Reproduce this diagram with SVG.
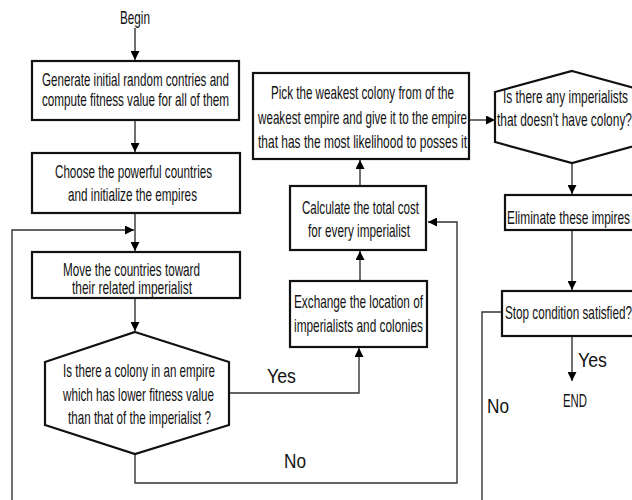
<svg xmlns="http://www.w3.org/2000/svg" width="632" height="500" viewBox="0 0 632 500">
<style>
.box{fill:#fff;stroke:#111;stroke-width:2.2}
.ln{fill:none;stroke:#333;stroke-width:1.4}
text{font-family:"Liberation Sans",Arial,sans-serif;font-size:19px;fill:#111}
.lbl{font-size:20px}
</style>
<defs>
<marker id="ah" viewBox="0 0 10 10" refX="10" refY="5" markerWidth="9" markerHeight="9" markerUnits="userSpaceOnUse" orient="auto">
<path d="M0,0 L10,5 L0,10 Z" fill="#000"/>
</marker>
</defs>
<rect width="632" height="500" fill="#fff"/>
<g id="connectors">
<path class="ln" d="M135,28 V60" marker-end="url(#ah)"/>
<path class="ln" d="M135,120 V152" marker-end="url(#ah)"/>
<path class="ln" d="M135,213 V251" marker-end="url(#ah)"/>
<path class="ln" d="M12,500 V230 H134" marker-end="url(#ah)"/>
<path class="ln" d="M135,298 V331" marker-end="url(#ah)"/>
<path class="ln" d="M229,393 H359 V348" marker-end="url(#ah)"/>
<path class="ln" d="M135,454 V483 H457 V222 H428" marker-end="url(#ah)"/>
<path class="ln" d="M360,281 V251" marker-end="url(#ah)"/>
<path class="ln" d="M360,186 V160" marker-end="url(#ah)"/>
<path class="ln" d="M469,120 H495" marker-end="url(#ah)"/>
<path class="ln" d="M572,163 V194" marker-end="url(#ah)"/>
<path class="ln" d="M572,230 V290" marker-end="url(#ah)"/>
<path class="ln" d="M572,336 V381" marker-end="url(#ah)"/>
<path class="ln" d="M502,312 H482 V500"/>
</g>
<g id="begin"><text x="120" y="24" textLength="30" lengthAdjust="spacingAndGlyphs">Begin</text></g>
<g id="n1">
<rect class="box" x="32" y="61" width="207" height="59"/>
<text x="42" y="86" textLength="187" lengthAdjust="spacingAndGlyphs">Generate initial random contries and</text>
<text x="42" y="106" textLength="187" lengthAdjust="spacingAndGlyphs">compute fitness value for all of them</text>
</g>
<g id="n2">
<rect class="box" x="32" y="153" width="208" height="60"/>
<text x="55" y="178" textLength="157" lengthAdjust="spacingAndGlyphs">Choose the powerful countries</text>
<text x="68" y="201" textLength="129" lengthAdjust="spacingAndGlyphs">and initialize the empires</text>
</g>
<g id="n3">
<rect class="box" x="32" y="252" width="208" height="46"/>
<text x="63" y="276" textLength="137" lengthAdjust="spacingAndGlyphs">Move the countries toward</text>
<text x="72" y="294" textLength="120" lengthAdjust="spacingAndGlyphs">their related imperialist</text>
</g>
<g id="d1">
<polygon class="box" points="135,332 229,362 229,425 135,454 45,425 45,362"/>
<text x="63" y="377" textLength="152" lengthAdjust="spacingAndGlyphs">Is there a colony in an empire</text>
<text x="63" y="401" textLength="151" lengthAdjust="spacingAndGlyphs">which has lower fitness value</text>
<text x="68" y="424" textLength="143" lengthAdjust="spacingAndGlyphs">than that of the imperialist ?</text>
</g>
<g id="n4">
<rect class="box" x="290" y="281" width="137" height="66"/>
<text x="294" y="308" textLength="129" lengthAdjust="spacingAndGlyphs">Exchange the location of</text>
<text x="294" y="332" textLength="129" lengthAdjust="spacingAndGlyphs">imperialists and colonies</text>
</g>
<g id="n5">
<rect class="box" x="290" y="186" width="136" height="64"/>
<text x="302" y="214" textLength="117" lengthAdjust="spacingAndGlyphs">Calculate the total cost</text>
<text x="308" y="237" textLength="102" lengthAdjust="spacingAndGlyphs">for every imperialist</text>
</g>
<g id="n6">
<rect class="box" x="253" y="73" width="216" height="86"/>
<text x="271" y="99" textLength="183" lengthAdjust="spacingAndGlyphs">Pick the weakest colony from of the</text>
<text x="258" y="124" textLength="209" lengthAdjust="spacingAndGlyphs">weakest empire and give it to the empire</text>
<text x="258" y="148" textLength="209" lengthAdjust="spacingAndGlyphs">that has the most likelihood to posses it</text>
</g>
<g id="d2">
<polygon class="box" points="572,71 649,92 649,142 572,163 495,142 495,92"/>
<text x="503" y="103" textLength="125" lengthAdjust="spacingAndGlyphs">Is there any imperialists</text>
<text x="497" y="126" textLength="135" lengthAdjust="spacingAndGlyphs">that doesn't have colony?</text>
</g>
<g id="n7">
<rect class="box" x="505" y="195" width="140" height="35"/>
<text x="507" y="224" textLength="123" lengthAdjust="spacingAndGlyphs">Eliminate these impires</text>
</g>
<g id="n8">
<rect class="box" x="502" y="291" width="140" height="45"/>
<text x="505" y="319" textLength="127" lengthAdjust="spacingAndGlyphs">Stop condition satisfied?</text>
</g>
<g id="end"><text x="563" y="407" textLength="24" lengthAdjust="spacingAndGlyphs">END</text></g>
<g id="labels">
<text class="lbl" x="267" y="383" textLength="29" lengthAdjust="spacingAndGlyphs">Yes</text>
<text class="lbl" x="284" y="468" textLength="22" lengthAdjust="spacingAndGlyphs">No</text>
<text class="lbl" x="578" y="367" textLength="29" lengthAdjust="spacingAndGlyphs">Yes</text>
<text class="lbl" x="487" y="413" textLength="22" lengthAdjust="spacingAndGlyphs">No</text>
</g>
</svg>
